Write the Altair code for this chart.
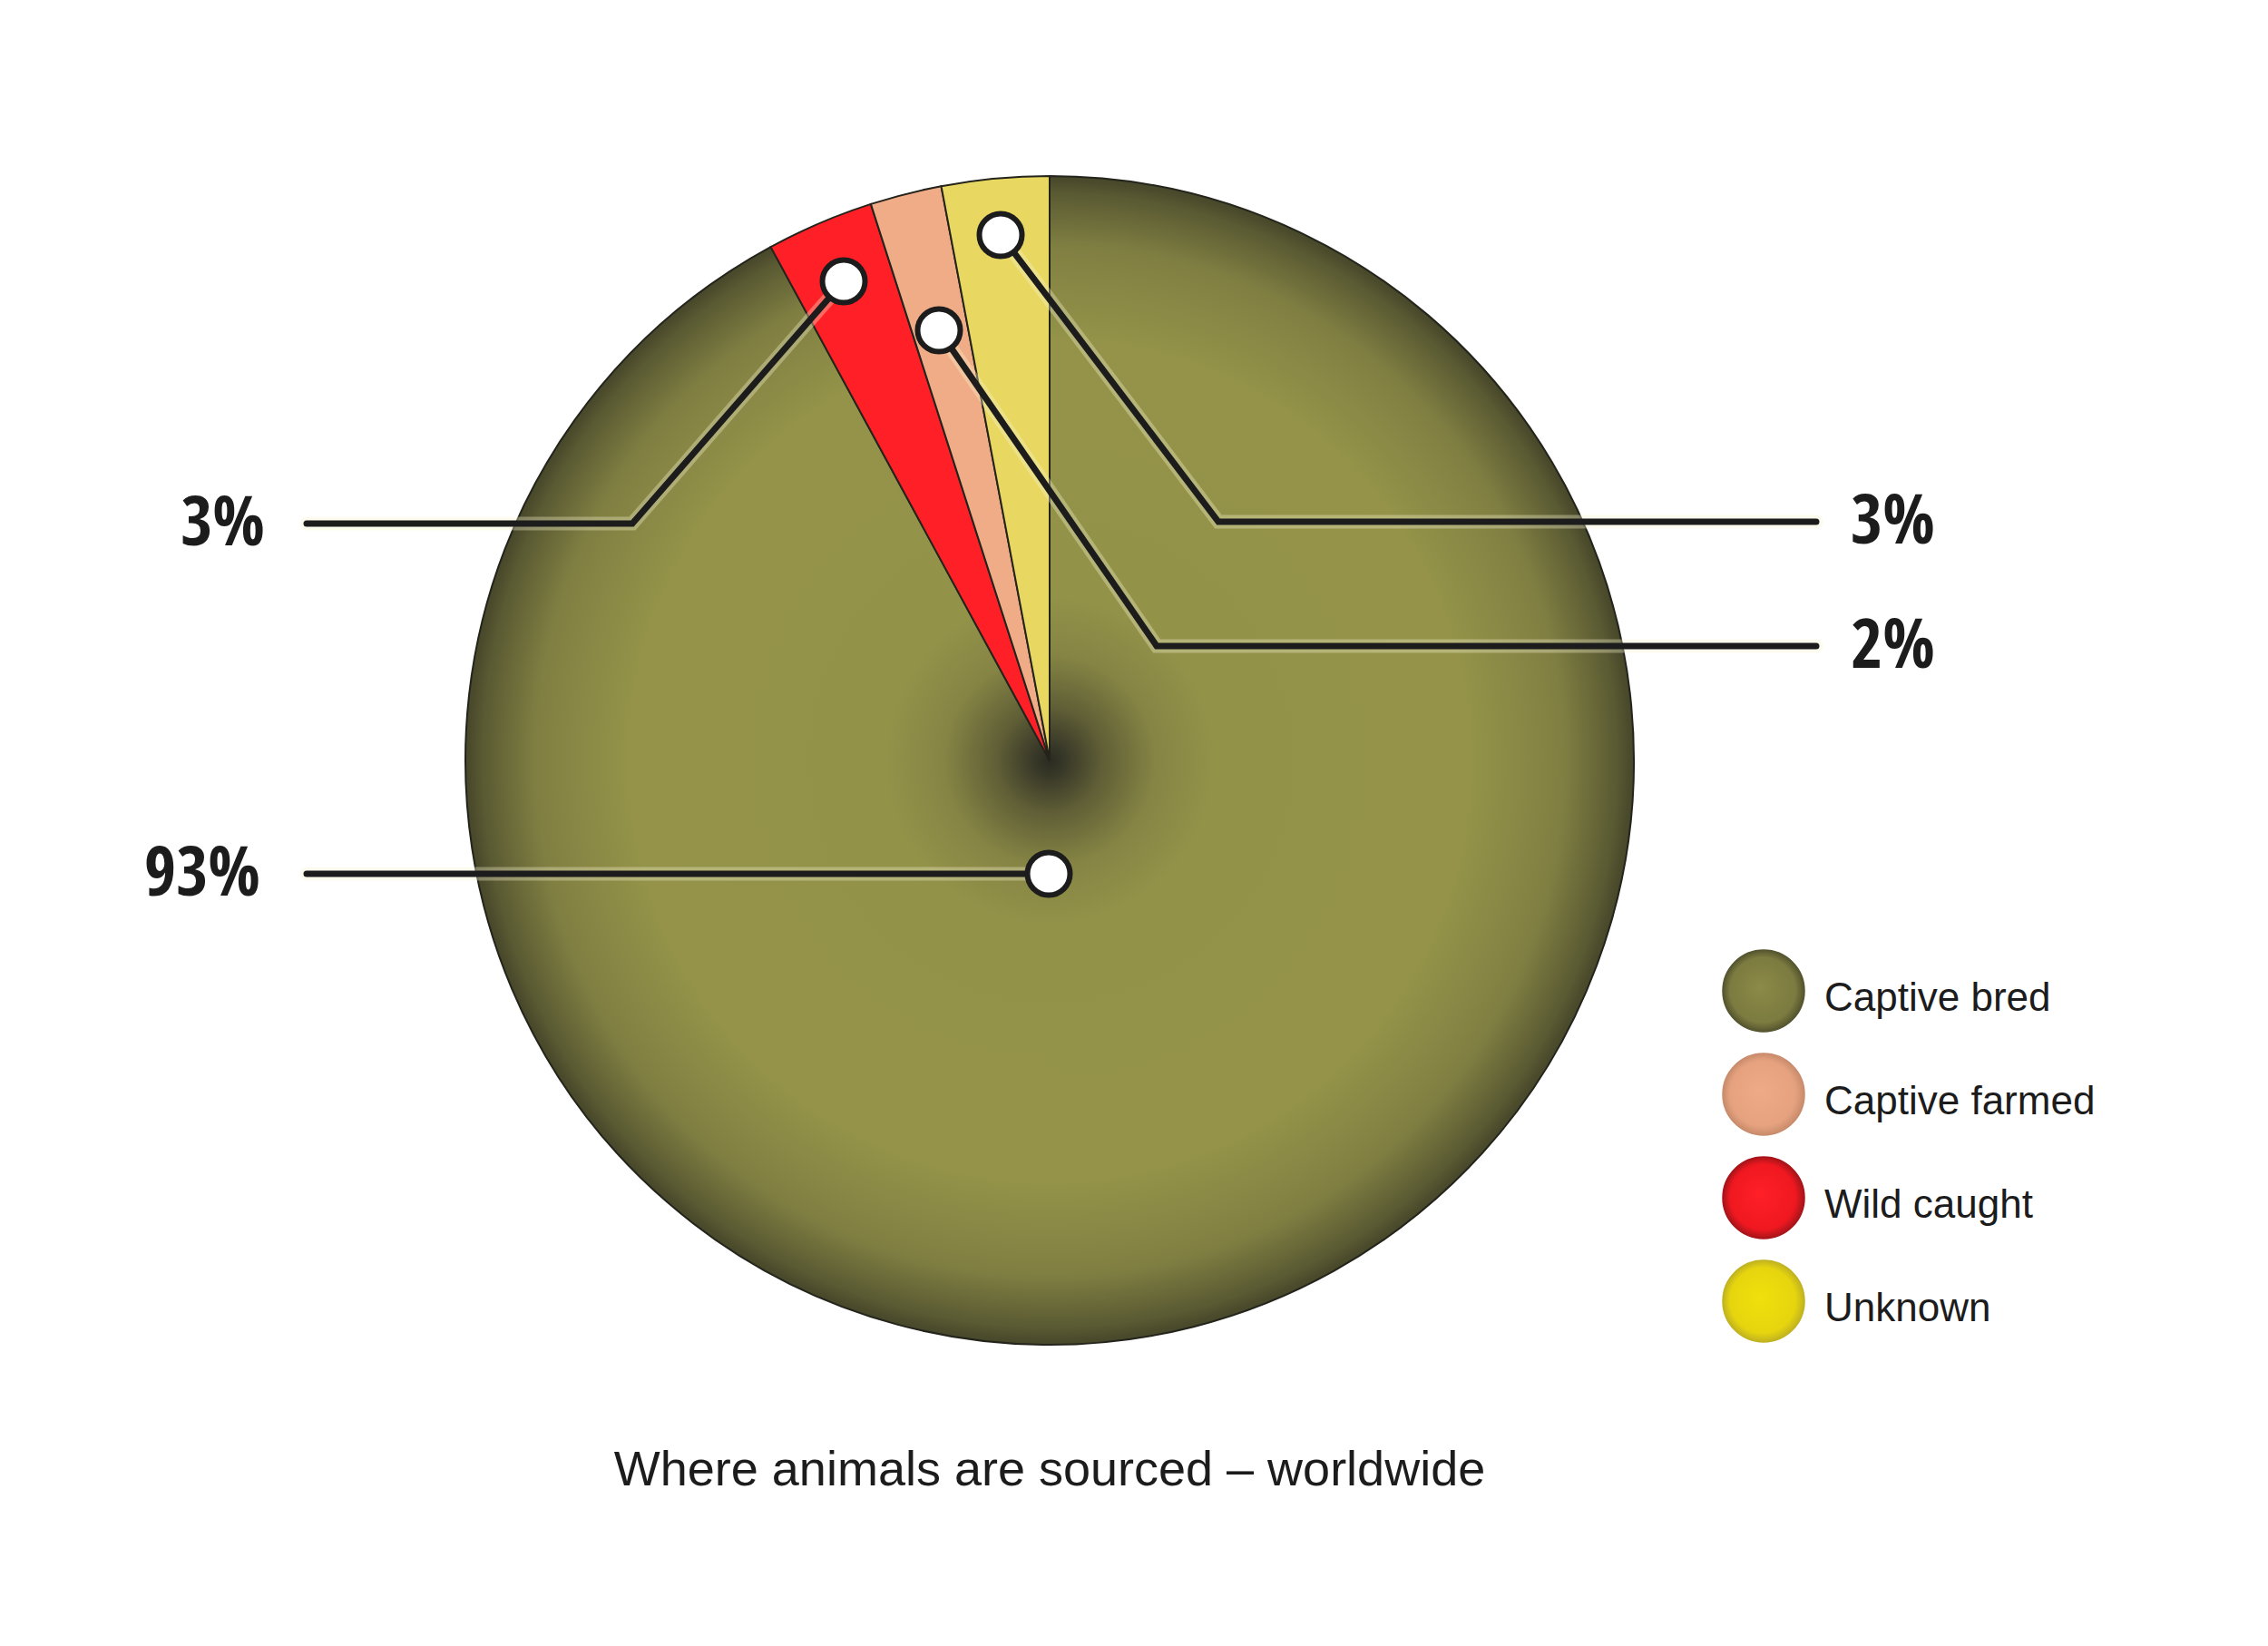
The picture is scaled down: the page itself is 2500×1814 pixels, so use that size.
import math
import altair as alt
import pandas as pd

# ---------------- data ----------------
categories = ["Captive bred", "Captive farmed", "Wild caught", "Unknown"]
values = [93, 2, 3, 3]
# clockwise order of the slices, starting at 12 o'clock
slice_order = ["Captive bred", "Wild caught", "Captive farmed", "Unknown"]
title_text = "Where animals are sourced \u2013 worldwide"

# ---------------- styles ----------------
pie_fill = {
    "Captive farmed": "#f0ac86",
    "Wild caught": "#ff1f27",
    "Unknown": "#e8d862",
}
bred_stops = [(0.0, "#2a2a21"), (0.03, "#3a3a29"), (0.09, "#5f5e36"),
              (0.18, "#858444"), (0.28, "#939249"), (0.72, "#949349"),
              (0.88, "#807f42"), (0.97, "#5a5a33"), (1.0, "#46462a")]
legend_stops = {
    "Captive bred": ["#8b8a47", "#7c7b40", "#55552f"],
    "Captive farmed": ["#eeaa86", "#e6a27f", "#c98c6c"],
    "Wild caught": ["#ff1f27", "#f01820", "#a8141a"],
    "Unknown": ["#f0e00c", "#e6d50e", "#c2b320"],
}
INK = "#1c1c1c"

# ---------------- layout (image pixel coordinates) ----------------
W, H = 2480, 1790
X0, Y0 = 8, 8
CX, CY, R = 1157, 838, 644
leader_paths = {
    "Unknown": [(1103, 259), (1343, 575), (2002, 575)],
    "Captive farmed": [(1035, 364), (1275, 712), (2002, 712)],
    "Wild caught": [(930, 310), (697, 577), (338, 577)],
    "Captive bred": [(1156, 963), (338, 963)],
}
label_pos = {
    "Unknown": (2040, 574, "left"),
    "Captive farmed": (2040, 711, "left"),
    "Wild caught": (292, 576, "right"),
    "Captive bred": (287, 962, "right"),
}
LEG_X, LEG_Y0, LEG_DY, LEG_TX = 1944, 1092, 114, 2011
TITLE_X, TITLE_Y = 1157, 1637

xs = alt.Scale(domain=[X0, X0 + W], nice=False, zero=False)
ys = alt.Scale(domain=[Y0, Y0 + H], nice=False, zero=False, reverse=True)
total = sum(values)
ts = alt.Scale(domain=[0, total], range=[0, 2 * math.pi])

# ---------------- pie ----------------
pie_df = pd.DataFrame({
    "category": categories,
    "value": values,
    "order": [slice_order.index(c) for c in categories],
})
pie_base = (
    alt.Chart(pie_df)
    .transform_window(cum="sum(value)", sort=[alt.SortField("order")], frame=[None, 0])
    .transform_calculate(start="datum.cum - datum.value")
)
pie_enc = dict(
    theta=alt.Theta("start:Q", scale=ts),
    theta2="cum:Q",
    x=alt.X(datum=CX, type="quantitative", scale=xs, axis=None),
    y=alt.Y(datum=CY, type="quantitative", scale=ys, axis=None),
)
layers = []
bred_grad = alt.Gradient(
    gradient="radial",
    stops=[alt.GradientStop(offset=o, color=c) for o, c in bred_stops],
    x1=0.5, y1=0.5, r1=0, x2=0.5, y2=0.5, r2=0.5,
)
layers.append(
    pie_base.transform_filter(alt.datum.category == "Captive bred")
    .mark_arc(radius=R, color=bred_grad, stroke="#24241c", strokeWidth=2)
    .encode(**pie_enc)
)
for cat in ["Wild caught", "Captive farmed", "Unknown"]:
    layers.append(
        pie_base.transform_filter(alt.datum.category == cat)
        .mark_arc(radius=R, color=pie_fill[cat], stroke="#24241c", strokeWidth=2)
        .encode(**pie_enc)
    )

# ---------------- leader lines ----------------
rows = []
for cat, pts in leader_paths.items():
    for i, (px, py) in enumerate(pts):
        rows.append({"lead": cat, "seq": i, "px": px, "py": py})
lead_df = pd.DataFrame(rows)
lead_enc = dict(
    x=alt.X("px:Q", scale=xs, axis=None),
    y=alt.Y("py:Q", scale=ys, axis=None),
    detail="lead:N",
    order="seq:O",
)
layers.append(
    alt.Chart(lead_df).mark_line(strokeWidth=15, color="#f6f3cf", opacity=0.35,
                                 strokeCap="round", strokeJoin="miter").encode(**lead_enc)
)
layers.append(
    alt.Chart(lead_df).mark_line(strokeWidth=7, color=INK,
                                 strokeCap="round", strokeJoin="miter").encode(**lead_enc)
)
dot_df = lead_df[lead_df["seq"] == 0]
layers.append(
    alt.Chart(dot_df).mark_point(shape="circle", filled=True, fill="white", stroke=INK,
                                 strokeWidth=6, size=2209, opacity=1)
    .encode(x=alt.X("px:Q", scale=xs, axis=None), y=alt.Y("py:Q", scale=ys, axis=None))
)

# ---------------- percentage labels ----------------
lab_df = pd.DataFrame({
    "category": categories,
    "label": [f"{v}%" for v in values],
    "lx": [label_pos[c][0] for c in categories],
    "ly": [label_pos[c][1] for c in categories],
    "side": [label_pos[c][2] for c in categories],
})
pct_font = "Open Sans Condensed, Roboto Condensed, sans-serif"
for side in ["left", "right"]:
    layers.append(
        alt.Chart(lab_df).transform_filter(alt.datum.side == side)
        .mark_text(font=pct_font, fontWeight="bold", fontSize=76, color=INK,
                   align=side, baseline="middle", dy=2)
        .encode(x=alt.X("lx:Q", scale=xs, axis=None), y=alt.Y("ly:Q", scale=ys, axis=None),
                text="label:N")
    )

# ---------------- legend ----------------
leg_df = pd.DataFrame({"category": categories, "idx": list(range(len(categories)))})
leg_base = alt.Chart(leg_df).transform_calculate(
    ly=f"{LEG_Y0} + {LEG_DY} * datum.idx", lx=f"{LEG_X}", tx=f"{LEG_TX}"
)
for cat in categories:
    c0, c1, c2 = legend_stops[cat]
    g = alt.Gradient(
        gradient="radial",
        stops=[alt.GradientStop(offset=0, color=c0), alt.GradientStop(offset=0.8, color=c1),
               alt.GradientStop(offset=1, color=c2)],
        x1=0.45, y1=0.45, r1=0, x2=0.5, y2=0.5, r2=0.5,
    )
    layers.append(
        leg_base.transform_filter(alt.datum.category == cat)
        .mark_point(shape="circle", filled=True, fill=g, stroke=c2, strokeWidth=1.5,
                    size=8100, opacity=1)
        .encode(x=alt.X("lx:Q", scale=xs, axis=None), y=alt.Y("ly:Q", scale=ys, axis=None))
    )
layers.append(
    leg_base.mark_text(font="Liberation Sans", fontSize=44, color=INK, align="left",
                       baseline="middle", dy=9)
    .encode(x=alt.X("tx:Q", scale=xs, axis=None), y=alt.Y("ly:Q", scale=ys, axis=None),
            text="category:N")
)

# ---------------- title ----------------
layers.append(
    alt.Chart(pd.DataFrame({"t": [title_text]}))
    .mark_text(font="Liberation Sans", fontSize=54, color=INK, align="center",
               baseline="alphabetic")
    .encode(x=alt.X(datum=TITLE_X, type="quantitative", scale=xs, axis=None),
            y=alt.Y(datum=TITLE_Y, type="quantitative", scale=ys, axis=None),
            text="t:N")
)

chart = (
    alt.layer(*layers)
    .properties(width=W, height=H, autosize=alt.AutoSizeParams(type="none"), padding=0,
                background="white")
    .configure_view(stroke=None)
)
chart.save("out.html", embed_options={"renderer": "svg", "actions": False})
